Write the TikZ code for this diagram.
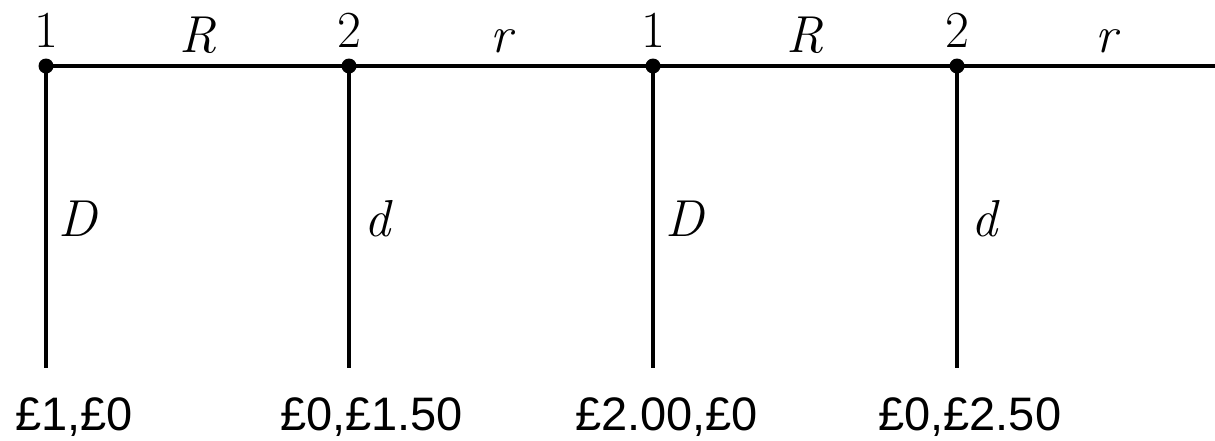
\documentclass[tikz,border=0pt]{standalone}
\usepackage{fontspec}
\newfontfamily\arialfont{Liberation Sans}
\begin{document}
\begin{tikzpicture}[x=1pt,y=-1pt,
  edge/.style={line width=3.6pt, line cap=butt},
  dotnode/.style={circle, fill=black, inner sep=0pt, minimum size=15pt},
  toplab/.style={anchor=base, inner sep=0pt, font=\fontsize{52}{60}\selectfont},
  sidelab/.style={anchor=base west, inner sep=0pt, font=\fontsize{52}{60}\selectfont},
  paylab/.style={anchor=base west, inner sep=0pt, font=\arialfont\fontsize{47}{54}\selectfont}]
\useasboundingbox (0,0) rectangle (1215,440);
% decision nodes
\node[dotnode] (n1) at (46,66) {};
\node[dotnode] (n2) at (349,66) {};
\node[dotnode] (n3) at (653,66) {};
\node[dotnode] (n4) at (957,66) {};
\coordinate (end) at (1215,66);
% terminal points
\coordinate (t1) at (46,368);
\coordinate (t2) at (349,368);
\coordinate (t3) at (653,368);
\coordinate (t4) at (957,368);
% main line
\draw[edge] (n1.center) -- (n2.center) -- (n3.center) -- (n4.center) -- (end);
% drops
\draw[edge] (n1.center) -- (t1);
\draw[edge] (n2.center) -- (t2);
\draw[edge] (n3.center) -- (t3);
\draw[edge] (n4.center) -- (t4);
% player labels
\node[toplab] (p1) at (46,47) {1};
\node[toplab] (p2) at (349,47) {2};
\node[toplab] (p3) at (653,47) {1};
\node[toplab] (p4) at (957,47) {2};
% move labels along top
\node[toplab] (m1) at (198,52) {\itshape R};
\node[toplab] (m2) at (501,52) {\itshape r};
\node[toplab] (m3) at (805,52) {\itshape R};
\node[toplab] (m4) at (1106,52) {\itshape r};
% drop labels
\node[sidelab] (s1) at (58,236) {\itshape D};
\node[sidelab] (s2) at (364,236) {\itshape d};
\node[sidelab] (s3) at (665,236) {\itshape D};
\node[sidelab] (s4) at (971,236) {\itshape d};
% payoffs
\node[paylab] (y1) at (15,430) {£1,£0};
\node[paylab] (y2) at (280,430) {£0,£1.50};
\node[paylab] (y3) at (575,430) {£2.00,£0};
\node[paylab] (y4) at (878,430) {£0,£2.50};
\end{tikzpicture}
\end{document}
